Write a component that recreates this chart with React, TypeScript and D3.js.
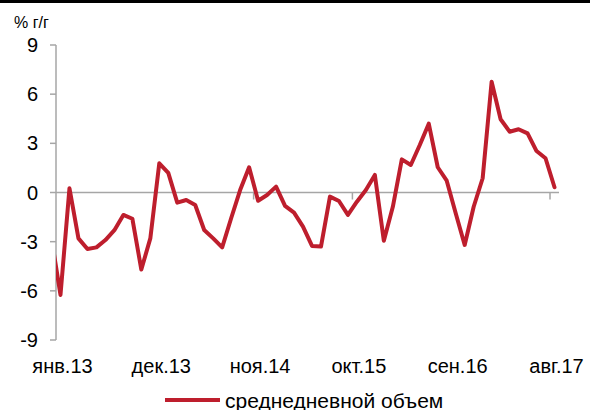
import React from "react";
import * as d3 from "d3";

// monthly series, first value (Dec 2012) sits left of the plot and is clipped
const startMonth = new Date(2012, 11, 1);
const monthNames = ["янв", "фев", "мар", "апр", "май", "июн", "июл", "авг", "сен", "окт", "ноя", "дек"];
const values = [
  -2.8,
  -6.25, 0.26, -2.8, -3.45, -3.35, -2.9, -2.3, -1.37, -1.6, -4.7, -2.8, 1.78,
  1.2, -0.62, -0.46, -0.76, -2.29, -2.8, -3.35, -1.57, 0.15, 1.54, -0.5, -0.15,
  0.36, -0.82, -1.23, -2.08, -3.26, -3.3, -0.25, -0.52, -1.37, -0.56, 0.15, 1.07,
  -2.94, -0.87, 2.02, 1.68, 2.9, 4.2, 1.54, 0.72, -1.27, -3.2, -0.87, 0.87,
  6.76, 4.47, 3.71, 3.86, 3.61, 2.53, 2.09, 0.32,
];
const yTicks = [-9, -6, -3, 0, 3, 6, 9];
const labelEvery = 11;
const seriesName = "среднедневной объем";
const unitLabel = "% г/г";

const width = 590;
const height = 410;
const color = "#BE1E2D";
const axisColor = "#A6A6A6";
const font = "Arial, 'Liberation Sans', sans-serif";

export default function App() {
  const dates = values.map((_, i) => d3.timeMonth.offset(startMonth, i));
  const fmt = (d: Date) => `${monthNames[d.getMonth()]}.${String(d.getFullYear()).slice(2)}`;

  // index 0 is the clipped lead-in point, plot categories are 1..n
  const n = values.length - 1;
  const x = d3.scaleLinear().domain([0.5, n + 0.5]).range([56, 559]);
  const y = d3.scaleLinear().domain([-9, 9]).range([340, 45]);

  const line = d3.line<number>()
    .x((_, i) => x(i))
    .y(d => y(d));

  const labelIdx = d3.range(1, n + 1).filter(i => (i - 1) % labelEvery === 0);
  const tickIdx = labelIdx.slice(1).map(i => i - 0.5);

  return (
    <svg width={width} height={height} style={{ position: "absolute", left: 0, top: 0 }} fontFamily={font}>
      <rect x={0} y={0} width={width} height={3} fill="#000" />
      <defs>
        <clipPath id="plot">
          <rect x={x(0.5)} y={0} width={x(n + 0.5) - x(0.5) + 10} height={height} />
        </clipPath>
      </defs>

      <text x={14} y={28} fontSize={16} fill="#000">{unitLabel}</text>

      {/* y axis */}
      <line x1={x(0.5)} x2={x(0.5)} y1={y(9)} y2={y(-9)} stroke={axisColor} strokeWidth={1.5} />
      {yTicks.map(t => (
        <g key={t}>
          <line x1={x(0.5) - 6} x2={x(0.5)} y1={y(t)} y2={y(t)} stroke={axisColor} strokeWidth={1.5} />
          <text x={38} y={y(t)} dy="0.35em" textAnchor="end" fontSize={20} fill="#000">{t}</text>
        </g>
      ))}

      {/* zero line with category ticks */}
      <line x1={x(0.5)} x2={x(n + 0.5)} y1={y(0)} y2={y(0)} stroke={axisColor} strokeWidth={1.5} />
      {tickIdx.map(t => (
        <line key={t} x1={x(t)} x2={x(t)} y1={y(0)} y2={y(0) + 7} stroke={axisColor} strokeWidth={1.5} />
      ))}
      {labelIdx.map(i => (
        <text key={i} x={x(i) + 2} y={373} textAnchor="middle" fontSize={20} fill="#000">{fmt(dates[i])}</text>
      ))}

      <path d={line(values) ?? ""} fill="none" stroke={color} strokeWidth={4}
        strokeLinejoin="round" strokeLinecap="round" clipPath="url(#plot)" />

      {/* legend */}
      <line x1={165} x2={220} y1={400} y2={400} stroke={color} strokeWidth={4} />
      <text x={225} y={408} fontSize={21} fill="#000">{seriesName}</text>
    </svg>
  );
}
